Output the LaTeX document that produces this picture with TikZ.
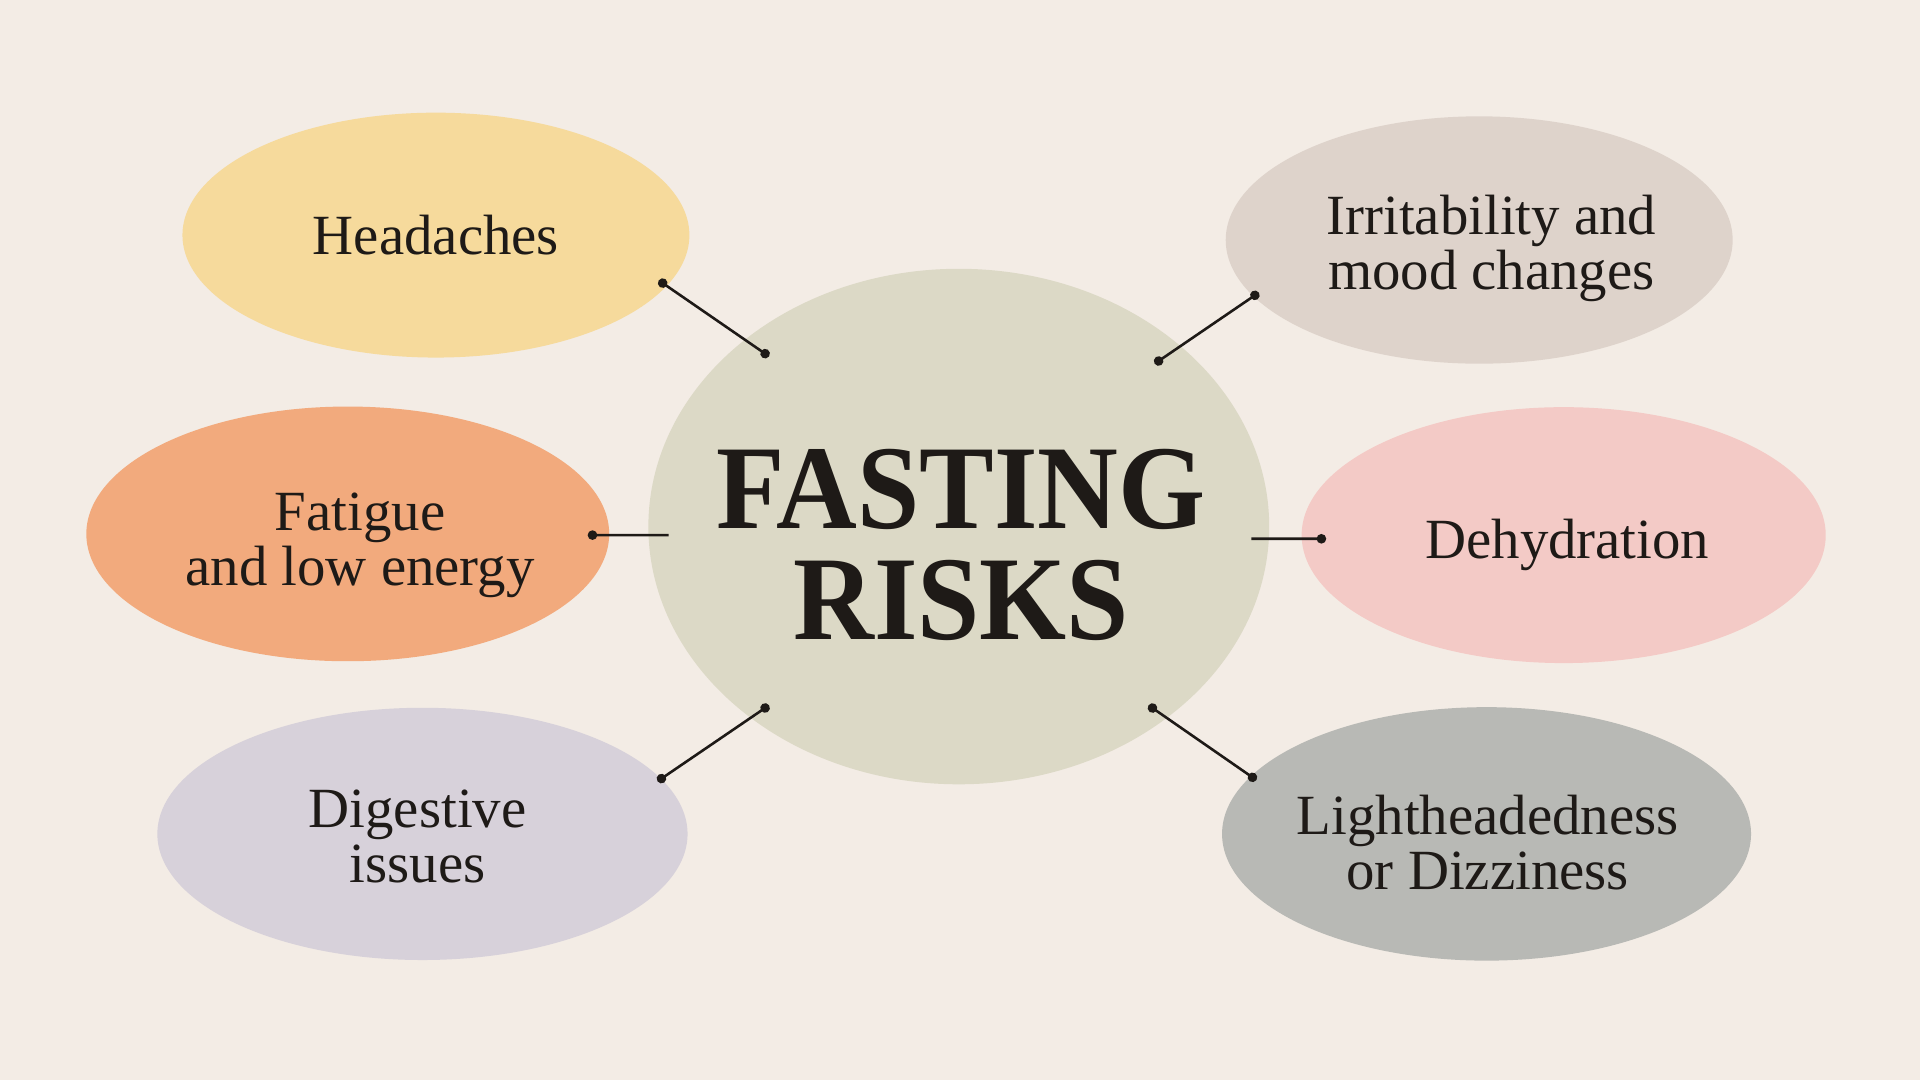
\documentclass[tikz,border=0pt]{standalone}
\usepackage{fontspec}
\setmainfont{Liberation Serif}
\usepackage{xcolor}
\usepackage{tikz}
\usetikzlibrary{calc}
\usetikzlibrary{positioning}
\usetikzlibrary{shapes.geometric}
\usetikzlibrary{arrows.meta}

\definecolor{paper}{HTML}{F3ECE5}
\definecolor{ink}{HTML}{1E1A17}
\definecolor{corefill}{HTML}{DCD9C6}
\definecolor{headfill}{HTML}{F6DA9C}
\definecolor{irritfill}{HTML}{DED3CB}
\definecolor{fatiguefill}{HTML}{F2AA7D}
\definecolor{dehydfill}{HTML}{F3CAC6}
\definecolor{digestfill}{HTML}{D7D1DA}
\definecolor{lightfill}{HTML}{B8B9B5}

\tikzset{
	bubble/.style={ellipse, draw=none, inner sep=0pt},
	risk/.style={font=\fontsize{13.2}{12.8}\selectfont, text=ink, align=center, inner sep=0pt},
	title/.style={font=\fontsize{26}{24.2}\selectfont\bfseries, text=ink, align=center, inner sep=0pt, yscale=1.07, transform shape},
	link/.style={draw=ink, line width=0.6pt},
	knob/.tip={Circle[length=2.2pt]},
}

\begin{document}
\begin{tikzpicture}
		
		\fill[paper] (0, 0) rectangle (15.68, 8.82);
		\useasboundingbox (0, 0) rectangle (15.68, 8.82);
		
		% the six risks round the centre
		\node[bubble, fill=corefill, minimum width=5.07cm, minimum height=4.21cm] (core) at (7.83, 4.52) {};
		\node[bubble, fill=headfill, minimum width=4.14cm, minimum height=2.00cm] (head) at (3.56, 6.90) {};
		\node[bubble, fill=irritfill, minimum width=4.14cm, minimum height=2.02cm] (irrit) at (12.08, 6.86) {};
		\node[bubble, fill=fatiguefill, minimum width=4.27cm, minimum height=2.08cm] (fatigue) at (2.84, 4.46) {};
		\node[bubble, fill=dehydfill, minimum width=4.28cm, minimum height=2.09cm] (dehyd) at (12.77, 4.45) {};
		\node[bubble, fill=digestfill, minimum width=4.33cm, minimum height=2.06cm] (digest) at (3.45, 2.01) {};
		\node[bubble, fill=lightfill, minimum width=4.32cm, minimum height=2.07cm] (light) at (12.14, 2.01) {};
		
		\node[title] (coretext) at ($(core)+(0.02, -0.15)$) {FASTING\\RISKS};
		\node[risk] (headtext) at ($(head)+(0, 0)$) {Headaches};
		\node[risk] (irrittext) at ($(irrit)+(0.10, -0.07)$) {Irritability and\\mood changes};
		\node[risk] (fatiguetext) at ($(fatigue)+(0.10, -0.09)$) {Fatigue\\and low energy};
		\node[risk] (dehydtext) at ($(dehyd)+(0.03, -0.08)$) {Dehydration};
		\node[risk] (digesttext) at ($(digest)+(-0.04, -0.02)$) {Digestive\\issues};
		\node[risk] (lighttext) at ($(light)+(0.01, -0.07)$) {Lightheadedness\\or Dizziness};
		
		% ends of the connectors
		\coordinate (headend) at ($(head)+(1.82, -0.37)$);
		\coordinate (corenw) at ($(core)+(-1.55, 1.39)$);
		\coordinate (irritend) at ($(irrit)+(-1.80, -0.43)$);
		\coordinate (corene) at ($(core)+(1.60, 1.33)$);
		\coordinate (fatigueend) at ($(fatigue)+(1.96, -0.01)$);
		\coordinate (corew) at ($(core)+(-2.37, -0.07)$);
		\coordinate (dehydend) at ($(dehyd)+(-1.94, -0.03)$);
		\coordinate (coree) at ($(core)+(2.39, -0.10)$);
		\coordinate (digestend) at ($(digest)+(1.92, 0.43)$);
		\coordinate (coresw) at ($(core)+(-1.55, -1.46)$);
		\coordinate (lightend) at ($(light)+(-1.88, 0.44)$);
		\coordinate (corese) at ($(core)+(1.55, -1.46)$);
		
		\draw[link, knob-knob] (headend) -- (corenw);
		\draw[link, knob-knob] (irritend) -- (corene);
		\draw[link, knob-] (fatigueend) -- (corew);
		\draw[link, knob-] (dehydend) -- (coree);
		\draw[link, knob-knob] (digestend) -- (coresw);
		\draw[link, knob-knob] (lightend) -- (corese);
		
	\end{tikzpicture}
\end{document}
